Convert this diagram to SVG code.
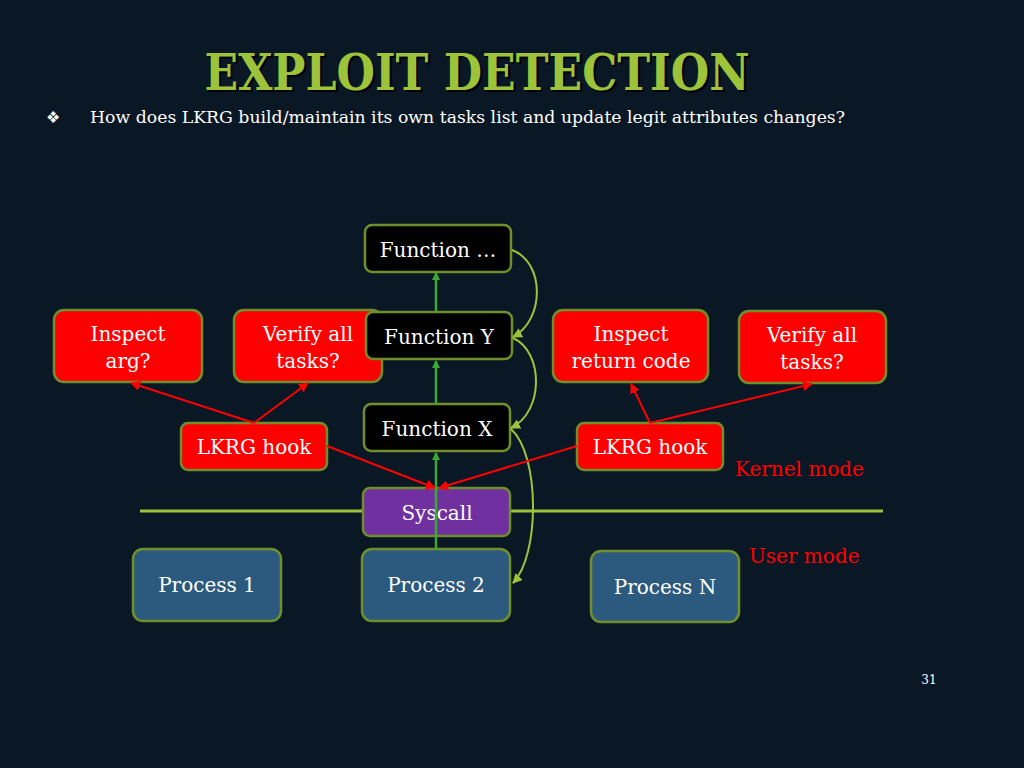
<svg xmlns="http://www.w3.org/2000/svg" width="1024" height="768" viewBox="0 0 1024 768">
<defs>
<style>
text{font-family:"DejaVu Serif","Liberation Serif",serif}
.box{stroke:#6f8f2c;stroke-width:2.5}
.red{fill:#ff0000}
.blk{fill:#000000}
.pur{fill:#7030a0}
.blu{fill:#2c5a7e}
.t{fill:#ffffff;font-size:20px;text-anchor:middle}
.g{stroke:#3aaa35;stroke-width:2.5;fill:none}
.c{stroke:#9dc33b;stroke-width:2;fill:none}
.r{stroke:#ff0000;stroke-width:2;fill:none}
</style>
<marker id="ag" markerWidth="8" markerHeight="8" refX="7" refY="4" orient="auto" markerUnits="userSpaceOnUse"><path d="M0,0 L8,4 L0,8 Z" fill="#3aaa35"/></marker>
<marker id="al" markerWidth="10" markerHeight="10" refX="9" refY="5" orient="auto" markerUnits="userSpaceOnUse"><path d="M0,0 L10,5 L0,10 Z" fill="#9dc33b"/></marker>
<marker id="ar" markerWidth="10" markerHeight="10" refX="9" refY="5" orient="auto" markerUnits="userSpaceOnUse"><path d="M0,0 L10,5 L0,10 Z" fill="#ff0000"/></marker>
</defs>
<rect width="1024" height="768" fill="#0a1724"/>
<g id="title">
<text x="479" y="92" font-size="50" font-weight="bold" text-anchor="middle" fill="#000" textLength="545" lengthAdjust="spacingAndGlyphs">EXPLOIT DETECTION</text>
<text x="477" y="90" font-size="50" font-weight="bold" text-anchor="middle" fill="#9dc33b" textLength="545" lengthAdjust="spacingAndGlyphs">EXPLOIT DETECTION</text>
</g>
<g id="subtitle">
<text x="46" y="123" font-size="16" fill="#ffffff" font-family="DejaVu Sans">❖</text>
<text x="90" y="123" font-size="17" fill="#ffffff" textLength="755" lengthAdjust="spacingAndGlyphs">How does LKRG build/maintain its own tasks list and update legit attributes changes?</text>
</g>
<line id="divider" x1="140" y1="511" x2="883" y2="511" stroke="#9dc33b" stroke-width="3"/>
<g id="inspect-arg"><rect class="box red" x="54" y="310" width="148" height="72" rx="10"/><text class="t" x="128" y="341">Inspect</text><text class="t" x="128" y="368">arg?</text></g>
<g id="verify-left"><rect class="box red" x="234" y="310" width="148" height="72" rx="10"/><text class="t" x="308" y="341">Verify all</text><text class="t" x="308" y="368">tasks?</text></g>
<g id="inspect-ret"><rect class="box red" x="553" y="310" width="155" height="72" rx="10"/><text class="t" x="631" y="341">Inspect</text><text class="t" x="631" y="368">return code</text></g>
<g id="verify-right"><rect class="box red" x="739" y="311" width="147" height="72" rx="10"/><text class="t" x="812" y="342">Verify all</text><text class="t" x="812" y="369">tasks?</text></g>
<g id="hook-left"><rect class="box red" x="181" y="423" width="146" height="47" rx="7"/><text class="t" x="254" y="454">LKRG hook</text></g>
<g id="hook-right"><rect class="box red" x="577" y="423" width="146" height="47" rx="7"/><text class="t" x="650" y="454">LKRG hook</text></g>
<g id="func-dots"><rect class="box blk" x="365" y="225" width="146" height="47" rx="7"/><text class="t" x="438" y="257">Function …</text></g>
<g id="func-y"><rect class="box blk" x="366" y="312" width="146" height="47" rx="7"/><text class="t" x="439" y="344">Function Y</text></g>
<g id="func-x"><rect class="box blk" x="364" y="404" width="146" height="47" rx="7"/><text class="t" x="437" y="436">Function X</text></g>
<g id="syscall"><rect class="box pur" x="363" y="488" width="147" height="48" rx="7"/><text class="t" x="437" y="520">Syscall</text></g>
<g id="process-1"><rect class="box blu" x="133" y="549" width="148" height="72" rx="10"/><text class="t" x="207" y="592">Process 1</text></g>
<g id="process-2"><rect class="box blu" x="362" y="549" width="148" height="72" rx="10"/><text class="t" x="436" y="592">Process 2</text></g>
<g id="process-n"><rect class="box blu" x="591" y="551" width="148" height="71" rx="10"/><text class="t" x="665" y="594">Process N</text></g>
<g id="labels">
<text x="735" y="476" font-size="20" fill="#ff0000">Kernel mode</text>
<text x="749" y="563" font-size="20" fill="#ff0000">User mode</text>
<text x="929" y="684" font-size="12" fill="#ffffff" text-anchor="middle">31</text>
</g>
<g id="connectors">
<path class="g" d="M436,549 L436,453" marker-end="url(#ag)"/>
<path class="g" d="M436,404 L436,361" marker-end="url(#ag)"/>
<path class="g" d="M436,312 L436,273" marker-end="url(#ag)"/>
<path class="c" d="M512,250 C545,262 545,320 513,337" marker-end="url(#al)"/>
<path class="c" d="M513,338 C544,352 544,412 511,428" marker-end="url(#al)"/>
<path class="c" d="M511,429 C540,455 540,555 513,583" marker-end="url(#al)"/>
<path class="r" d="M254,423 L131,383" marker-end="url(#ar)"/>
<path class="r" d="M254,423 L308,383" marker-end="url(#ar)"/>
<path class="r" d="M327,446 L435,488" marker-end="url(#ar)"/>
<path class="r" d="M577,446 L439,488" marker-end="url(#ar)"/>
<path class="r" d="M650,423 L631,384" marker-end="url(#ar)"/>
<path class="r" d="M650,423 L812,384" marker-end="url(#ar)"/>
</g>
</svg>
